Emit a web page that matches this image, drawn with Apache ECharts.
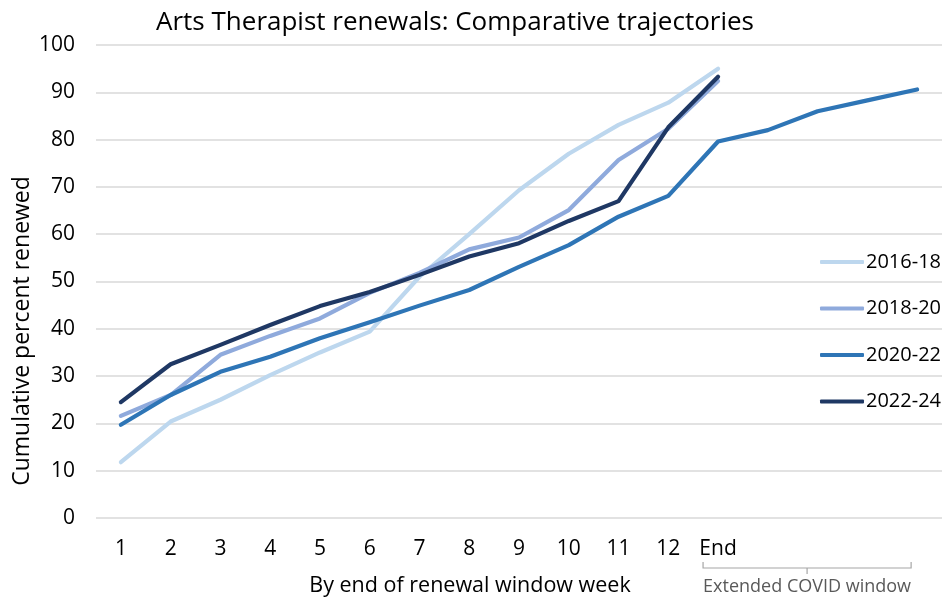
<!DOCTYPE html>
<html>
<head>
<meta charset="utf-8">
<script src="https://cdn.jsdelivr.net/npm/echarts@6/dist/echarts.min.js"></script>
<style>
  html, body { margin: 0; padding: 0; background: #fff; }
  #chart { width: 951px; height: 598px; }
</style>
</head>
<body>
<div id="chart"></div>
<script>
// categories: weeks 1-12, End, then extended COVID window slots (unlabelled)
var weeks = ['1', '2', '3', '4', '5', '6', '7', '8', '9', '10', '11', '12', 'End', 'x1', 'x2', 'x3', 'x4']
var yTicks = [0, 10, 20, 30, 40, 50, 60, 70, 80, 90, 100]

var s2016 = [11.8, 20.4, 25.0, 30.2, 35.0, 39.4, 51.0, 60.0, 69.3, 77.0, 83.1, 87.8, 95.0]
var s2018 = [21.6, 26.0, 34.5, 38.5, 42.2, 47.6, 51.8, 56.8, 59.3, 65.1, 75.7, 82.3, 92.4]
var s2020 = [19.7, 26.0, 30.9, 34.1, 38.0, 41.4, 44.9, 48.2, 53.1, 57.7, 63.7, 68.1, 79.6, 82.0, 86.0, 88.3, 90.6]
var s2022 = [24.5, 32.5, 36.6, 40.8, 44.8, 47.8, 51.4, 55.3, 58.1, 62.8, 67.0, 82.6, 93.3]

var seriesNames = ['2016-18', '2018-20', '2020-22', '2022-24']
var colors = ['#BDD7EE', '#8FAADC', '#2E75B6', '#1F3864']

var font = '"Open Sans", sans-serif'
var myChart = echarts.init(document.getElementById('chart'))

function mkSeries(name, data, i) {
  return {
    name: name,
    type: 'line',
    data: data,
    symbol: 'none',
    z: i + 2,
    lineStyle: { width: 4.2, color: colors[i], cap: 'round', join: 'round' },
    itemStyle: { color: colors[i] }
  }
}

var option = {
  animation: false,
  title: {
    text: 'Arts Therapist renewals: Comparative trajectories',
    left: 450,
    textAlign: 'center',
    top: 5,
    textStyle: { fontFamily: font, fontSize: 26, fontWeight: 'normal', color: '#000' }
  },
  legend: {
    orient: 'vertical',
    left: 815,
    top: 247,
    itemWidth: 44,
    itemHeight: 4,
    itemGap: 26.5,
    icon: 'roundRect',
    data: seriesNames,
    textStyle: { fontFamily: font, fontSize: 20, color: '#000', padding: [0, 0, 0, -3] }
  },
  grid: { left: 96, right: 9, top: 45, bottom: 80 },
  xAxis: {
    type: 'category',
    data: weeks,
    boundaryGap: true,
    axisLine: { show: false },
    axisTick: { show: false },
    axisLabel: {
      margin: 21,
      fontFamily: font,
      fontSize: 21,
      color: '#000',
      interval: 0,
      formatter: function (v, idx) { return idx < 13 ? v : '' }
    }
  },
  yAxis: {
    type: 'value',
    min: yTicks[0],
    max: yTicks[yTicks.length - 1],
    interval: 10,
    axisLine: { show: false },
    axisTick: { show: false },
    splitLine: { lineStyle: { color: '#d9d9d9', width: 1.5 } },
    axisLabel: { margin: 21, fontFamily: font, fontSize: 21, color: '#000' }
  },
  series: [
    mkSeries(seriesNames[0], s2016, 0),
    mkSeries(seriesNames[1], s2018, 1),
    mkSeries(seriesNames[2], s2020, 2),
    mkSeries(seriesNames[3], s2022, 3)
  ]
}
myChart.setOption(option)

// axis titles and the extended-window bracket, placed from the axis scale
var xEnd = myChart.convertToPixel({ xAxisIndex: 0 }, 'End')
var xLast = myChart.convertToPixel({ xAxisIndex: 0 }, weeks[weeks.length - 1])
var bl = xEnd - 15, br = xLast - 6, bm = (bl + br) / 2
var by = 562
myChart.setOption({
  graphic: [
    {
      type: 'text',
      x: 470, y: 586,
      style: { text: 'By end of renewal window week', font: '21.5px ' + font, fill: '#000', textAlign: 'center', textVerticalAlign: 'middle' }
    },
    {
      type: 'text',
      x: 22, y: 331, rotation: Math.PI / 2,
      style: { text: 'Cumulative percent renewed', font: '23px ' + font, fill: '#000', textAlign: 'center', textVerticalAlign: 'middle' }
    },
    {
      type: 'polyline',
      shape: { points: [[bl, by], [bl, by + 6], [br, by + 6], [br, by]] },
      style: { stroke: '#a6a6a6', lineWidth: 1.2, fill: null }
    },
    {
      type: 'line',
      shape: { x1: bm, y1: by + 6, x2: bm, y2: by + 12 },
      style: { stroke: '#a6a6a6', lineWidth: 1.2 }
    },
    {
      type: 'text',
      x: bm, y: 587,
      style: { text: 'Extended COVID window', font: '18px ' + font, fill: '#595959', textAlign: 'center', textVerticalAlign: 'middle' }
    }
  ]
})
</script>
</body>
</html>
